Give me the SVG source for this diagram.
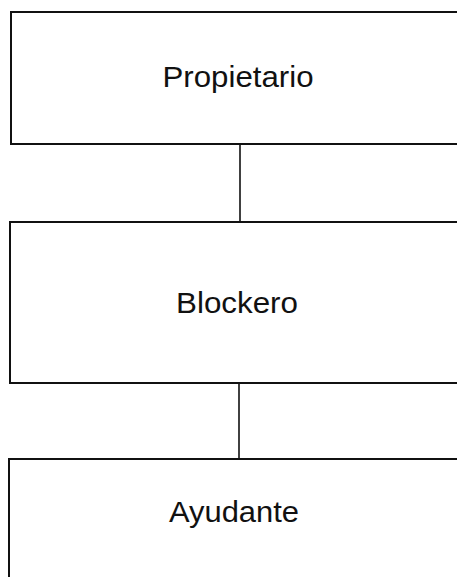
<svg xmlns="http://www.w3.org/2000/svg" width="457" height="577" viewBox="0 0 457 577">
<style>
.box{fill:#fff;stroke:#111;stroke-width:2}
.lbl{font-family:"Liberation Sans",Arial,sans-serif;font-size:30px;fill:#111;text-anchor:middle}
.con{stroke:#111;stroke-width:1.6;fill:none}
</style>
<rect width="457" height="577" fill="#fff"/>
<g id="connectors">
<line class="con" x1="240" y1="144" x2="240" y2="222"/>
<line class="con" x1="239" y1="383" x2="239" y2="459"/>
</g>
<g id="propietario">
<rect class="box" x="11" y="12" width="470" height="132"/>
<text class="lbl" x="238" y="87" textLength="151" lengthAdjust="spacingAndGlyphs">Propietario</text>
</g>
<g id="blockero">
<rect class="box" x="10" y="222" width="470" height="161"/>
<text class="lbl" x="237" y="313" textLength="122" lengthAdjust="spacingAndGlyphs">Blockero</text>
</g>
<g id="ayudante">
<rect class="box" x="9" y="459" width="470" height="140"/>
<text class="lbl" x="234" y="522" textLength="130" lengthAdjust="spacingAndGlyphs">Ayudante</text>
</g>
</svg>
